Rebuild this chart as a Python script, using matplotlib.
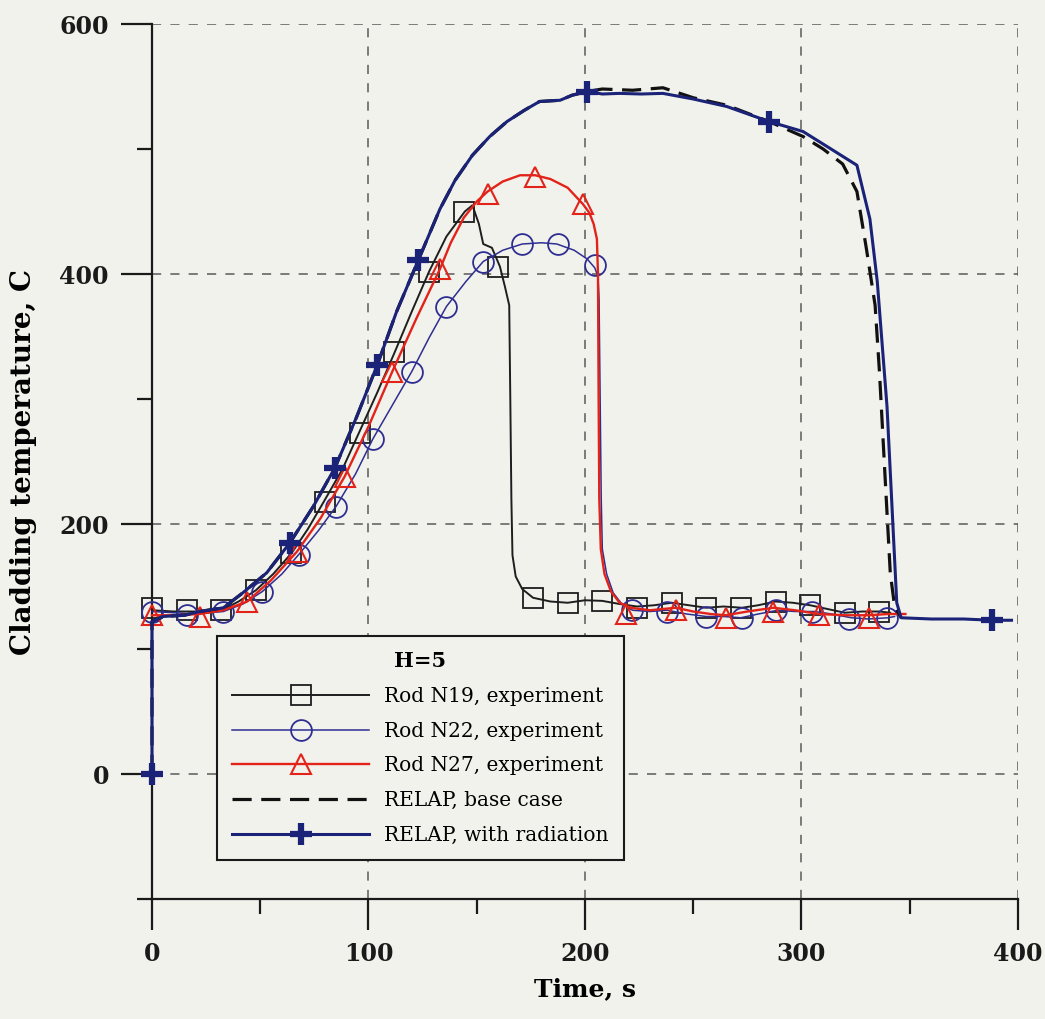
import matplotlib
matplotlib.use("Agg")
import matplotlib.pyplot as plt
from matplotlib.lines import Line2D

plt.rcParams['font.family'] = ['DejaVu Serif']

BG = '#f2f2ec'

# Rod N19, experiment (black, squares)
n19_t = [0, 10, 20, 32, 40, 48, 56, 64.6, 72, 79.4, 88, 95.6, 104, 112, 120, 128, 136,
         144.5, 148, 151, 153, 157, 160.7, 163, 165, 165.5, 166, 166.5, 168, 171, 176, 184,
         192, 200, 208, 216, 224, 232, 240, 248, 256, 264, 272.5, 280, 288, 296, 304, 312,
         320, 328, 336, 341]
n19_T = [131, 130, 130, 131, 138, 147, 160, 177, 196, 218, 244, 273, 305, 337, 370, 402, 430,
         450, 455, 440, 424, 421, 406, 390, 375, 300, 220, 175, 158, 148, 141, 138,
         137, 139, 138.5, 136, 134, 135, 137, 135, 133, 134, 133, 135, 138, 137, 135, 132,
         129, 130, 130, 129]
n19_mt = [0, 16, 32, 48, 64, 80, 96, 112, 128, 144, 160, 176, 192, 208, 224, 240, 256, 272,
          288, 304, 320, 336]
n19_mT = [133, 131.5, 131.5, 147.6, 177, 218, 273, 337.5, 402, 450, 406, 141, 137, 138.5, 133,
          137, 133, 133, 138, 135.5, 129, 130]

# Rod N22, experiment (dark blue, circles)
n22_t = [0, 10, 20, 33, 42, 51, 60, 68, 77, 85, 94, 102, 111, 120, 128, 136, 145, 153, 162,
         171, 180, 187, 195, 201, 204.5, 206, 206.5, 207, 207.5, 208, 210, 213, 217, 222, 230,
         238, 247, 256, 264, 272, 280, 289, 297, 306, 314, 323, 331, 340, 343]
n22_T = [130, 129, 128, 130, 136, 146, 160, 176, 195, 214, 240, 268, 295, 322, 349, 374, 394,
         410, 419, 424, 425, 424, 419, 412, 405, 398, 380, 300, 220, 180, 160, 145, 136, 131,
         130, 131, 128, 126, 126, 125, 128, 131, 130, 130, 128, 125, 124, 125, 126]
n22_mt = [0, 16, 33, 51, 68, 85, 102, 120, 136, 153, 171, 187.5, 204.5, 221.7, 238, 256, 272.5,
          288, 305, 322, 339.5]
n22_mT = [130, 127.5, 130, 146, 175.6, 214, 268, 321.6, 374, 410, 424, 424, 407, 131, 130, 126,
          125, 131, 130, 124, 125]

# Rod N27, experiment (red, triangles)
n27_t = [0, 11, 22, 33, 44, 55, 67, 78, 89, 100, 111, 122, 133, 138, 144, 150, 155, 162, 170,
         177, 184, 192, 199, 202, 204, 205.5, 206, 206.3, 206.6, 207.3, 209, 212, 216, 221, 230,
         242, 250, 258, 265, 275, 287, 297, 308, 320, 331, 340, 348]
n27_T = [127, 127, 128, 131, 138, 155, 178, 205, 238, 278, 322, 364, 404, 425, 445, 458, 466,
         474, 479, 479, 476, 469, 456, 449, 440, 428, 400, 300, 220, 180, 160, 146, 137, 133,
         131, 133, 130, 128, 127, 130, 133, 131, 128, 127, 127, 128, 128]
n27_mt = [0, 22, 44, 67, 89, 111, 133, 155, 177, 199, 219, 242, 265, 287, 308, 331]
n27_mT = [127, 126, 138, 178, 238, 322, 404, 464, 478, 456, 128, 131, 125, 130, 127, 125]

# RELAP, base case (black dashed)
base_t = [0, 0, 5, 15, 22, 33, 42, 53, 63.7, 74.5, 84.5, 94.6, 104, 113, 123, 133, 140, 148,
          156, 164, 172, 179, 188.5, 194, 201, 208, 222, 236, 250, 265.5, 285, 300.7, 310, 319,
          325.6, 330, 334, 336, 338.5, 341, 343, 346]
base_T = [0, 122, 126, 127, 130, 133, 145, 161, 185, 214, 245, 286, 327, 370, 411, 452, 475,
          495, 510, 522, 531, 538, 539, 543, 546, 548, 547, 549, 541, 535, 522, 510, 500, 488,
          466, 420, 375, 322, 241, 161, 134, 125]

# RELAP, with radiation (navy, plus)
rad_t = [0, 0, 5, 15, 22, 33, 42, 53, 63.7, 74.5, 84.5, 94.6, 104, 113, 123, 133, 140, 148,
         156, 164, 172, 179, 188.5, 194, 201, 208, 216, 226, 236, 250, 265.5, 285, 300.7, 311.8,
         325.6, 331.6, 335, 339.5, 341.8, 344, 346, 360, 375, 388, 397]
rad_T = [0, 122, 126, 127, 130, 133, 145, 161, 185, 214, 245, 286, 327, 370, 411, 452, 475,
         495, 510, 522, 531, 538, 539, 543, 546, 544, 544.5, 544, 544.5, 540, 534, 522, 514, 502,
         487, 444, 394, 294, 214, 137, 125, 124, 124, 123, 123]
rad_mt = [0, 63.7, 84.5, 104, 123, 201, 285, 388]
rad_mT = [0, 185, 245, 327, 411, 546, 522, 123]

C_N19 = '#1e1e1e'
C_N22 = '#2e2e92'
C_N27 = '#e2231a'
C_RAD = '#1b2378'

fig = plt.figure(figsize=(10.45, 10.19), dpi=100, facecolor=BG)
ax = fig.add_axes([0.14545, 0.11776, 0.82871, 0.85868])
ax.set_facecolor(BG)

# experiment curves
ax.plot(n19_t, n19_T, color=C_N19, lw=1.4, clip_on=False, zorder=3)
ax.plot(n19_mt, n19_mT, ls='none', marker='s', ms=14, mfc='none', mec=C_N19, mew=1.3,
        clip_on=False, zorder=3)
ax.plot(n22_t, n22_T, color=C_N22, lw=1.1, clip_on=False, zorder=4)
ax.plot(n22_mt, n22_mT, ls='none', marker='o', ms=15, mfc='none', mec=C_N22, mew=1.3,
        clip_on=False, zorder=4)
ax.plot(n27_t, n27_T, color=C_N27, lw=1.7, clip_on=False, zorder=5)
ax.plot(n27_mt, n27_mT, ls='none', marker='^', ms=14, mfc='none', mec=C_N27, mew=1.5,
        clip_on=False, zorder=5)

# RELAP curves
ax.plot(base_t, base_T, color='#111111', lw=2.3, ls=(0, (6, 3)), clip_on=False, zorder=6)
ax.plot(rad_t, rad_T, color=C_RAD, lw=2.2, clip_on=False, zorder=7)
ax.plot(rad_mt, rad_mT, ls='none', marker='+', ms=16, mec=C_RAD, mew=4.5,
        clip_on=False, zorder=7)

ax.set_xlim(0, 400)
ax.set_ylim(-100, 600)
ax.set_xticks([0, 100, 200, 300, 400])
ax.set_xticks([50, 150, 250, 350], minor=True)
ax.set_yticks([0, 200, 400, 600])
ax.set_yticks([-100, 100, 300, 500], minor=True)

for side in ['top', 'right']:
    ax.spines[side].set_visible(False)
for side in ['left', 'bottom']:
    ax.spines[side].set_linewidth(1.6)
    ax.spines[side].set_color('#1a1a1a')

ax.tick_params(which='major', direction='out', length=22, width=1.6, color='#1a1a1a',
               pad=9, labelsize=17)
ax.tick_params(which='minor', direction='out', length=11, width=1.6, color='#1a1a1a')
for lab in ax.get_xticklabels() + ax.get_yticklabels():
    lab.set_fontweight('bold')
    lab.set_color('#1a1a1a')

ax.grid(True, which='major', color='#5a5a5a', ls=(0, (6, 6)), lw=1.1, zorder=1)

ax.set_xlabel('Time, s', fontsize=18, fontweight='bold', labelpad=8)
ax.set_ylabel('Cladding temperature, C', fontsize=20, fontweight='bold', labelpad=16)

handles = [
    Line2D([], [], color=C_N19, lw=1.4, marker='s', ms=14, mfc='none', mec=C_N19, mew=1.3),
    Line2D([], [], color=C_N22, lw=1.1, marker='o', ms=15, mfc='none', mec=C_N22, mew=1.3),
    Line2D([], [], color=C_N27, lw=1.7, marker='^', ms=14, mfc='none', mec=C_N27, mew=1.5),
    Line2D([], [], color='#111111', lw=2.3, ls=(0, (6, 3))),
    Line2D([], [], color=C_RAD, lw=2.2, marker='+', ms=16, mec=C_RAD, mew=4.5),
]
labels = ['Rod N19, experiment', 'Rod N22, experiment', 'Rod N27, experiment',
          'RELAP, base case', 'RELAP, with radiation']
leg = ax.legend(handles, labels, title='H=5', loc='lower left',
                bbox_to_anchor=(0.075, 0.0446), borderaxespad=0, fontsize=14.5,
                handlelength=6.8, handletextpad=0.75, labelspacing=0.78, borderpad=0.75,
                numpoints=1, fancybox=False, framealpha=1, facecolor=BG,
                edgecolor='#1a1a1a')
leg.get_title().set_fontweight('bold')
leg.get_title().set_fontsize(15)
leg.get_frame().set_linewidth(1.5)
leg.set_zorder(10)

fig.savefig('out.png', dpi=100, facecolor=BG)
